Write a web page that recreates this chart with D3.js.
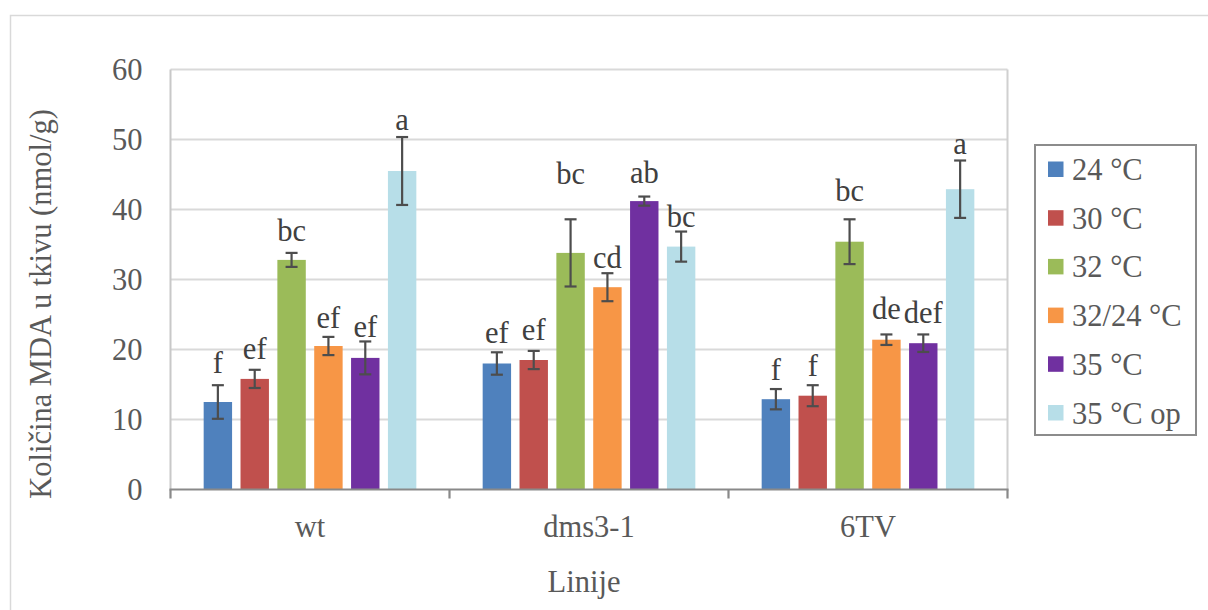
<!DOCTYPE html>
<html>
<head>
<meta charset="utf-8">
<script src="https://cdn.jsdelivr.net/npm/d3@7"></script>
<style>
  html, body { margin: 0; padding: 0; background: #fff; }
  svg { display: block; font-family: "Liberation Serif", "Times New Roman", serif; }
</style>
</head>
<body>
<svg id="chart" width="1208" height="610"></svg>
<script>
// Lines (x categories) and temperature treatments (series)
const lines = ["wt", "dms3-1", "6TV"];
const treatments = ["24 °C", "30 °C", "32 °C", "32/24 °C", "35 °C", "35 °C op"];
const colors = ["#4F81BD", "#C0504D", "#9BBB59", "#F79646", "#7030A0", "#B7DEE8"];

// MDA content (nmol/g), one row per line, one value per treatment
const mdaWt    = [12.5, 15.8, 32.8, 20.5, 18.8, 45.5];
const mdaDms31 = [18.0, 18.5, 33.8, 28.9, 41.2, 34.7];
const mda6TV   = [12.9, 13.4, 35.4, 21.4, 20.9, 42.9];

// Standard errors
const errWt    = [2.4, 1.3, 1.0, 1.3, 2.35, 4.85];
const errDms31 = [1.6, 1.3, 4.8, 2.0, 0.65, 2.15];
const err6TV   = [1.45, 1.5, 3.2, 0.75, 1.25, 4.1];

// Significance letters and the level (nmol/g) at which each sits
const letWt    = ["f", "ef", "bc", "ef", "ef", "a"];
const letDms31 = ["ef", "ef", "bc", "cd", "ab", "bc"];
const let6TV   = ["f", "f", "bc", "de", "def", "a"];
const letAtWt    = [16.7, 18.6, 35.5, 23.1, 21.8, 51.4];
const letAtDms31 = [21.0, 21.4, 43.6, 31.7, 43.8, 37.5];
const letAt6TV   = [15.7, 16.2, 41.2, 24.3, 23.8, 47.9];

const yTicks = [0, 10, 20, 30, 40, 50, 60];

const rows = [
  { line: lines[0], vals: mdaWt,    errs: errWt,    lets: letWt,    at: letAtWt },
  { line: lines[1], vals: mdaDms31, errs: errDms31, lets: letDms31, at: letAtDms31 },
  { line: lines[2], vals: mda6TV,   errs: err6TV,   lets: let6TV,   at: letAt6TV }
];
const bars = rows.flatMap(r => treatments.map((t, i) => ({
  line: r.line, treat: t, i, v: r.vals[i], e: r.errs[i], lab: r.lets[i], at: r.at[i]
})));

const svg = d3.select("#chart");
const plot = { left: 170.5, right: 1007.5, top: 69.5, bottom: 489.5 };
const textCol = "#595959";
const fs = 30.5;

// Outer chart frame
svg.append("rect")
  .attr("x", 10.5).attr("y", 15.5).attr("width", 1300).attr("height", 700)
  .attr("fill", "none").attr("stroke", "#d9d9d9").attr("stroke-width", 1.5);

const x0 = d3.scaleBand().domain(lines).range([plot.left, plot.right]).padding(0);
const x1 = d3.scaleBand().domain(treatments).range([0, x0.bandwidth()])
  .paddingInner(0.229).paddingOuter(0.9);
const y = d3.scaleLinear().domain([0, 60]).range([plot.bottom, plot.top]);

// Horizontal gridlines
svg.append("g").selectAll("line").data(yTicks.filter(d => d > 0)).join("line")
  .attr("x1", plot.left).attr("x2", plot.right)
  .attr("y1", d => y(d)).attr("y2", d => y(d))
  .attr("stroke", "#d9d9d9").attr("stroke-width", 2);

// Plot-area right edge and left axis
svg.append("line").attr("x1", plot.right).attr("x2", plot.right)
  .attr("y1", plot.top).attr("y2", plot.bottom)
  .attr("stroke", "#d0d0d0").attr("stroke-width", 2);
svg.append("line").attr("x1", plot.left).attr("x2", plot.left)
  .attr("y1", plot.top).attr("y2", plot.bottom)
  .attr("stroke", "#c8c8c8").attr("stroke-width", 2);

// Y tick labels
const yAxis = svg.append("g").attr("transform", `translate(${plot.left},0)`)
  .call(d3.axisLeft(y).tickValues(yTicks).tickSize(0).tickPadding(28).tickFormat(d3.format("d")));
yAxis.select(".domain").remove();
yAxis.selectAll("text").attr("fill", textCol).attr("font-size", fs)
  .attr("font-family", "Liberation Serif");

// Bars
svg.append("g").selectAll("rect").data(bars).join("rect")
  .attr("x", d => x0(d.line) + x1(d.treat))
  .attr("y", d => y(d.v))
  .attr("width", x1.bandwidth())
  .attr("height", d => y(0) - y(d.v))
  .attr("fill", d => colors[d.i]);

// Error bars
const eb = svg.append("g").attr("stroke", "#4d4d4d").attr("stroke-width", 2.2);
bars.forEach(d => {
  const cx = x0(d.line) + x1(d.treat) + x1.bandwidth() / 2;
  const top = y(d.v + d.e), bot = y(d.v - d.e);
  eb.append("line").attr("x1", cx).attr("x2", cx).attr("y1", top).attr("y2", bot);
  eb.append("line").attr("x1", cx - 6).attr("x2", cx + 6).attr("y1", top).attr("y2", top);
  eb.append("line").attr("x1", cx - 6).attr("x2", cx + 6).attr("y1", bot).attr("y2", bot);
});

// Significance letters
svg.append("g").selectAll("text").data(bars).join("text")
  .attr("x", d => x0(d.line) + x1(d.treat) + x1.bandwidth() / 2)
  .attr("y", d => y(d.at))
  .attr("text-anchor", "middle")
  .attr("font-size", fs)
  .attr("fill", "#404040")
  .text(d => d.lab);

// X axis line with category-boundary ticks
const xAxisG = svg.append("g").attr("stroke", "#898989").attr("stroke-width", 2.2);
xAxisG.append("line").attr("x1", plot.left - 1).attr("x2", plot.right + 1)
  .attr("y1", plot.bottom).attr("y2", plot.bottom);
const bounds = lines.map(l => x0(l)).concat([plot.right]);
xAxisG.selectAll(".tk").data(bounds).join("line")
  .attr("x1", d => d).attr("x2", d => d)
  .attr("y1", plot.bottom).attr("y2", plot.bottom + 9);

// Category labels
svg.append("g").selectAll("text").data(lines).join("text")
  .attr("x", d => x0(d) + x0.bandwidth() / 2)
  .attr("y", 537)
  .attr("text-anchor", "middle")
  .attr("font-size", fs)
  .attr("fill", textCol)
  .text(d => d);

// Axis titles
svg.append("text").attr("x", 584).attr("y", 592)
  .attr("text-anchor", "middle").attr("font-size", fs).attr("fill", textCol)
  .text("Linije");
svg.append("text")
  .attr("transform", "translate(51,304) rotate(-90)")
  .attr("text-anchor", "middle").attr("font-size", fs).attr("fill", textCol)
  .text("Količina MDA u tkivu (nmol/g)");

// Legend
const lg = svg.append("g");
lg.append("rect").attr("x", 1035).attr("y", 145).attr("width", 161).attr("height", 290)
  .attr("fill", "#fff").attr("stroke", "#8c8c8c").attr("stroke-width", 2);
const item = lg.selectAll("g.item").data(treatments).join("g")
  .attr("class", "item")
  .attr("transform", (d, i) => `translate(1048,${169 + i * 48.7})`);
item.append("rect").attr("x", 0).attr("y", -7.5).attr("width", 15.5).attr("height", 15.5)
  .attr("fill", (d, i) => colors[i]);
item.append("text").attr("x", 24).attr("y", 11)
  .attr("font-size", fs).attr("fill", textCol).text(d => d);
</script>
</body>
</html>
